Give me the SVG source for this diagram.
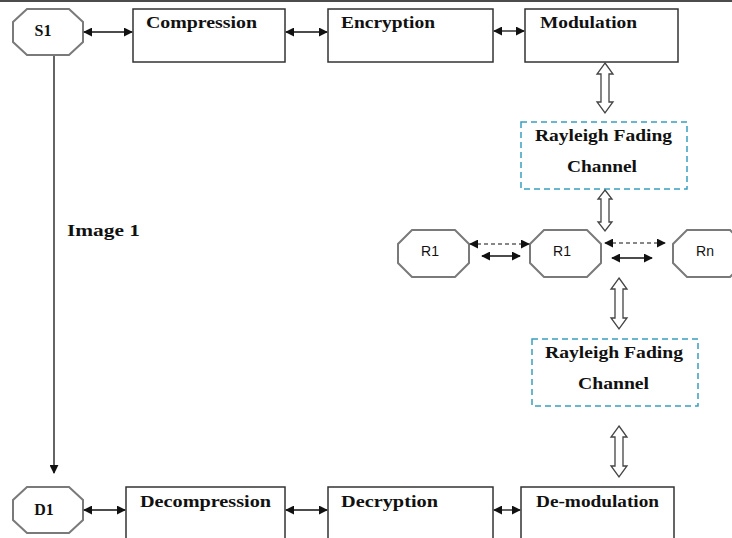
<svg xmlns="http://www.w3.org/2000/svg" width="732" height="538" viewBox="0 0 732 538">
<defs>
<style>
.box{fill:#fff;stroke:#333;stroke-width:1.5}
.oct{fill:#fff;stroke:#7a7a7a;stroke-width:2}
.ray{fill:#fff;stroke:#3a9fc0;stroke-width:1.5;stroke-dasharray:6,4}
.t{font-family:"Liberation Serif","Times New Roman",serif;font-weight:bold;font-size:16px;fill:#111}
.rs{font-family:"Liberation Sans",Arial,sans-serif;font-size:14px;fill:#111}
.ln{stroke:#111;stroke-width:1.3;fill:none}
.dash{stroke:#111;stroke-width:1.2;fill:none;stroke-dasharray:4,3}
.hollow{fill:#fff;stroke:#444;stroke-width:1.3}
</style>
<marker id="ah" viewBox="0 0 10 10" refX="9" refY="5" markerWidth="9" markerHeight="9" markerUnits="userSpaceOnUse" orient="auto-start-reverse">
<path d="M0,0 L10,5 L0,10 z" fill="#111"/>
</marker>
</defs>
<rect width="732" height="538" fill="#fff"/>
<line x1="0" y1="1" x2="732" y2="1" stroke="#111" stroke-width="1.5"/>

<g id="S1"><polygon class="oct" points="27,9 69,9 83,22 83,42 69,55 27,55 13,42 13,22"/><text class="t" x="43" y="36" font-size="14" text-anchor="middle">S1</text></g>
<g id="compression"><rect class="box" x="133" y="9" width="152" height="53"/><text class="t" x="146" y="28" textLength="111" lengthAdjust="spacingAndGlyphs">Compression</text></g>
<g id="encryption"><rect class="box" x="328" y="9" width="165" height="53"/><text class="t" x="341" y="28" textLength="94" lengthAdjust="spacingAndGlyphs">Encryption</text></g>
<g id="modulation"><rect class="box" x="525" y="9" width="153" height="53"/><text class="t" x="540" y="28" textLength="97" lengthAdjust="spacingAndGlyphs">Modulation</text></g>

<g id="rayleigh1"><rect class="ray" x="521" y="122" width="166" height="67"/><text class="t" x="535" y="141" textLength="137" lengthAdjust="spacingAndGlyphs">Rayleigh Fading</text><text class="t" x="567" y="172" textLength="70" lengthAdjust="spacingAndGlyphs">Channel</text></g>

<g id="R1a"><polygon class="oct" points="412,230 455,230 469,244 469,263 455,277 412,277 398,263 398,244"/><text class="rs" x="430" y="256" text-anchor="middle">R1</text></g>
<g id="R1b"><polygon class="oct" points="544,230 587,230 601,244 601,263 587,277 544,277 530,263 530,244"/><text class="rs" x="562" y="256" text-anchor="middle">R1</text></g>
<g id="Rn"><polygon class="oct" points="687,230 730,230 744,244 744,263 730,277 687,277 673,263 673,244"/><text class="rs" x="705" y="256" text-anchor="middle">Rn</text></g>

<g id="rayleigh2"><rect class="ray" x="532" y="339" width="166" height="67"/><text class="t" x="545" y="358" textLength="138" lengthAdjust="spacingAndGlyphs">Rayleigh Fading</text><text class="t" x="578" y="389" textLength="71" lengthAdjust="spacingAndGlyphs">Channel</text></g>

<g id="D1"><polygon class="oct" points="27,487 69,487 83,500 83,520 69,533 27,533 13,520 13,500"/><text class="t" x="44" y="515" font-size="14" text-anchor="middle">D1</text></g>
<g id="decompression"><rect class="box" x="126" y="487" width="159" height="60"/><text class="t" x="140" y="507" textLength="131" lengthAdjust="spacingAndGlyphs">Decompression</text></g>
<g id="decryption"><rect class="box" x="328" y="487" width="165" height="60"/><text class="t" x="341" y="507" textLength="97" lengthAdjust="spacingAndGlyphs">Decryption</text></g>
<g id="demodulation"><rect class="box" x="521" y="487" width="153" height="60"/><text class="t" x="536" y="507" textLength="123" lengthAdjust="spacingAndGlyphs">De-modulation</text></g>

<text class="t" x="67" y="236" font-size="17" textLength="73" lengthAdjust="spacingAndGlyphs">Image 1</text>

<g id="connectors">
<line class="ln" x1="84" y1="32" x2="132" y2="32" marker-start="url(#ah)" marker-end="url(#ah)"/>
<line class="ln" x1="286" y1="32" x2="327" y2="32" marker-start="url(#ah)" marker-end="url(#ah)"/>
<line class="ln" x1="494" y1="31" x2="524" y2="31" marker-start="url(#ah)" marker-end="url(#ah)"/>
<line class="ln" x1="54" y1="56" x2="54" y2="473" marker-end="url(#ah)"/>
<line class="ln" x1="84" y1="510" x2="125" y2="510" marker-start="url(#ah)" marker-end="url(#ah)"/>
<line class="ln" x1="286" y1="510" x2="327" y2="510" marker-start="url(#ah)" marker-end="url(#ah)"/>
<line class="ln" x1="494" y1="510" x2="520" y2="510" marker-start="url(#ah)" marker-end="url(#ah)"/>
<line class="dash" x1="470" y1="244" x2="529" y2="244" marker-start="url(#ah)" marker-end="url(#ah)"/>
<line class="ln" x1="482" y1="256" x2="520" y2="256" marker-start="url(#ah)" marker-end="url(#ah)"/>
<line class="dash" x1="605" y1="243" x2="665" y2="243" marker-start="url(#ah)" marker-end="url(#ah)"/>
<line class="ln" x1="612" y1="258" x2="652" y2="258" marker-start="url(#ah)" marker-end="url(#ah)"/>
<polygon class="hollow" points="605,63 613,74 609,74 609,102 613,102 605,113 597,102 601,102 601,74 597,74"/>
<polygon class="hollow" points="605,190 612,199 609,199 609,222 612,222 605,231 598,222 601,222 601,199 598,199"/>
<polygon class="hollow" points="619,278 627,289 623,289 623,318 627,318 619,329 611,318 615,318 615,289 611,289"/>
<polygon class="hollow" points="619,426 627,437 623,437 623,466 627,466 619,477 611,466 615,466 615,437 611,437"/>
</g>
</svg>
